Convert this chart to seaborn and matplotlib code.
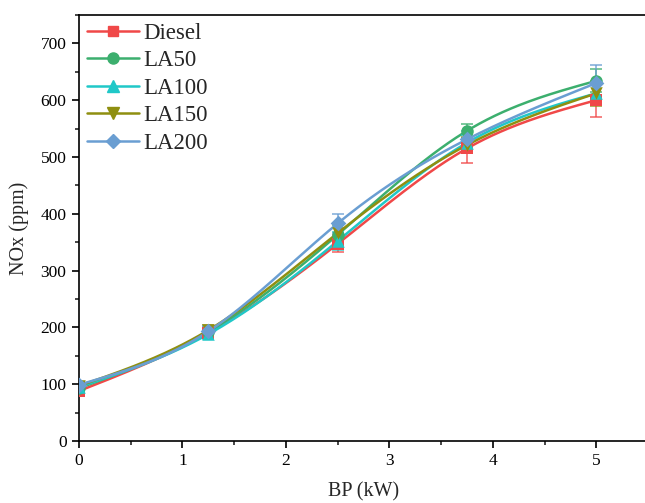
import numpy as np
import matplotlib
matplotlib.use("Agg")
import matplotlib.pyplot as plt
import seaborn as sns
import pandas as pd
from matplotlib.lines import Line2D
from matplotlib.ticker import MultipleLocator

bp = [0, 1.25, 2.5, 3.75, 5.0]
series = ["Diesel", "LA50", "LA100", "LA150", "LA200"]
diesel = [88, 190, 347, 515, 600]
la50 = [93, 192, 363, 546, 634]
la100 = [95, 188, 352, 525, 612]
la150 = [97, 195, 366, 521, 612]
la200 = [99, 193, 383, 531, 630]
diesel_err = [5, 9, 15, 25, 30]
la50_err = [5, 9, 17, 12, 20]
la100_err = [5, 9, 16, 14, 18]
la150_err = [5, 9, 17, 14, 22]
la200_err = [5, 9, 17, 14, 32]

colors = ["#F04848", "#3CAF6E", "#20C8C8", "#8F8F10", "#6A9ED2"]
markers = ["s", "o", "^", "v", "D"]
msizes = [8, 9, 9, 9, 8]

values = [diesel, la50, la100, la150, la200]
errs = [diesel_err, la50_err, la100_err, la150_err, la200_err]

rows = []
for name, v, e in zip(series, values, errs):
    for x, y, ee in zip(bp, v, e):
        rows.append({"BP": x, "NOx": y, "err": ee, "Fuel": name})
df = pd.DataFrame(rows)


def natural_spline(x, y, n=200):
    x = np.asarray(x, float)
    y = np.asarray(y, float)
    k = len(x)
    h = np.diff(x)
    A = np.zeros((k, k))
    r = np.zeros(k)
    A[0, 0] = 1
    A[-1, -1] = 1
    for i in range(1, k - 1):
        A[i, i - 1] = h[i - 1]
        A[i, i] = 2 * (h[i - 1] + h[i])
        A[i, i + 1] = h[i]
        r[i] = 3 * ((y[i + 1] - y[i]) / h[i] - (y[i] - y[i - 1]) / h[i - 1])
    c = np.linalg.solve(A, r)
    xs = np.linspace(x[0], x[-1], n)
    ys = np.empty_like(xs)
    for j, xv in enumerate(xs):
        i = min(np.searchsorted(x, xv, side="right") - 1, k - 2)
        b = (y[i + 1] - y[i]) / h[i] - h[i] * (2 * c[i] + c[i + 1]) / 3
        d = (c[i + 1] - c[i]) / (3 * h[i])
        t = xv - x[i]
        ys[j] = y[i] + b * t + c[i] * t ** 2 + d * t ** 3
    return xs, ys


sns.set_theme(style="ticks")
plt.rcParams["font.family"] = ["Liberation Serif", "DejaVu Serif"]

fig = plt.figure(figsize=(6.45, 5.03), dpi=100)
ax = fig.add_axes([0.1225, 0.1233, 0.8822, 0.847])

for name, col, mk, ms in zip(series, colors, markers, msizes):
    sub = df[df["Fuel"] == name]
    xs, ys = natural_spline(sub["BP"], sub["NOx"])
    sns.lineplot(x=xs, y=ys, color=col, lw=1.8, ax=ax, legend=False)
    ax.errorbar(sub["BP"], sub["NOx"], yerr=sub["err"], fmt="none",
                ecolor=col, elinewidth=1.2, capsize=4, capthick=1.2, alpha=0.8)
    sns.scatterplot(x=sub["BP"], y=sub["NOx"], color=col, marker=mk, s=ms ** 2,
                    edgecolor=col, linewidth=0, ax=ax, legend=False, zorder=5)

ax.set_xlim(0, 5.5)
ax.set_ylim(0, 750)
ax.xaxis.set_major_locator(MultipleLocator(1))
ax.xaxis.set_minor_locator(MultipleLocator(0.5))
ax.yaxis.set_major_locator(MultipleLocator(100))
ax.yaxis.set_minor_locator(MultipleLocator(50))
ax.tick_params(which="major", direction="out", length=5, width=1.2, labelsize=12.5,
               colors="black", pad=4)
ax.tick_params(which="minor", direction="out", length=3, width=1.2)
for s in ax.spines.values():
    s.set_linewidth(1.2)
    s.set_color("black")
ax.set_xlabel("BP (kW)", fontsize=14.5, labelpad=9)
ax.set_ylabel("NOx (ppm)", fontsize=14.5, labelpad=8)

handles = [Line2D([0], [0], color=c, marker=m, markersize=ms - 1, lw=1.8)
           for c, m, ms in zip(colors, markers, msizes)]
ax.legend(handles, series, loc="upper left", frameon=False, fontsize=16.5,
          handlelength=2.25, handletextpad=0.2, labelspacing=0.28,
          borderaxespad=0.0, borderpad=0.35, bbox_to_anchor=(0.0, 1.0))

fig.savefig("out.png", dpi=100)
